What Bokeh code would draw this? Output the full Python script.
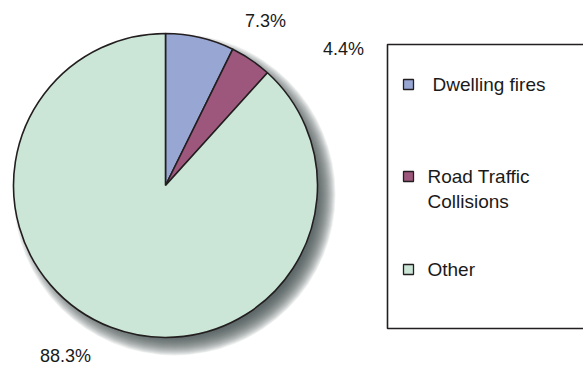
import numpy as np
from bokeh.plotting import figure
from bokeh.models import Range1d
from bokeh.core.properties import value
from bokeh.embed import file_html
from bokeh.resources import INLINE

categories = ["Dwelling fires", "Road Traffic Collisions", "Other"]
legend_lines = [["Dwelling fires"], ["Road Traffic", "Collisions"], ["Other"]]
shares = [7.3, 4.4, 88.3]
pct_labels = ["7.3%", "4.4%", "88.3%"]
colors = ["#98A6D4", "#9E577C", "#CBE6D6"]

W, H = 583, 367
p = figure(width=W, height=H, output_backend="svg", toolbar_location=None,
           x_range=Range1d(0, W), y_range=Range1d(0, H), min_border=0)
p.axis.visible = False
p.grid.visible = False
p.outline_line_color = None
p.background_fill_color = "white"

def Y(py):
    return H - py

cx, cy, R = 165, Y(185), 152

# soft shadow
for k in range(20):
    p.circle(x=cx + 9, y=cy - 9, radius=R + 9 - k * 1.0,
             fill_color="#4a5550", fill_alpha=0.085, line_color=None)

vals = np.array(shares)
frac = vals / vals.sum()
cum = np.concatenate([[0], np.cumsum(frac)])
starts = np.pi / 2 - 2 * np.pi * cum[:-1]
ends = np.pi / 2 - 2 * np.pi * cum[1:]
p.wedge(x=[cx] * 3, y=[cy] * 3, radius=R, start_angle=list(starts), end_angle=list(ends),
        direction="clock", fill_color=colors, line_color="#231f20", line_width=1.6)

font = value("Liberation Sans")
lab_pos = [(265, 20), (343, 48), (65, 355)]
for t, (lx, ly) in zip(pct_labels, lab_pos):
    p.text(x=[lx], y=[Y(ly)], text=[t], text_font=font, text_font_size="18px",
           text_align="center", text_baseline="middle", text_color="#1a1a1a")

# legend box
bx0, by0, bx1, by1 = 387, 44, 590, 328
p.quad(left=[bx0], right=[bx1], top=[Y(by0)], bottom=[Y(by1)],
       fill_color="white", line_color="#231f20", line_width=1.6)
entry_y = [84, 176, 269]
text_x = [432, 427, 427]
for lines, c, ey, tx in zip(legend_lines, colors, entry_y, text_x):
    p.rect(x=[408], y=[Y(ey)], width=10, height=10, fill_color=c,
           line_color="#231f20", line_width=1.3)
    for i, ln in enumerate(lines):
        p.text(x=[tx], y=[Y(ey + i * 25)], text=[ln], text_font=font,
               text_font_size="19px", text_align="left", text_baseline="middle",
               text_color="#1a1a1a")

open("out.html", "w").write(file_html(p, INLINE))
